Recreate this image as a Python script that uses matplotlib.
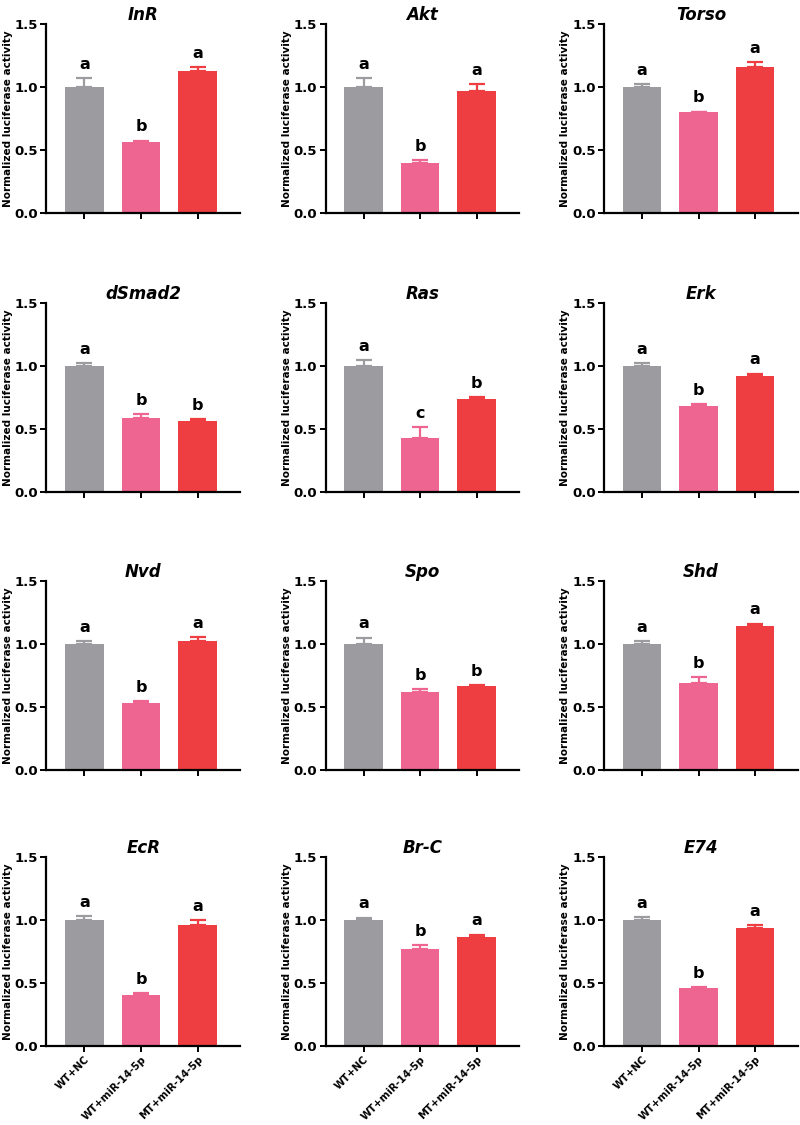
import matplotlib
matplotlib.use("Agg")
import matplotlib.pyplot as plt
import numpy as np

genes = ["InR", "Akt", "Torso", "dSmad2", "Ras", "Erk",
         "Nvd", "Spo", "Shd", "EcR", "Br-C", "E74"]
groups = ["WT+NC", "WT+miR-14-5p", "MT+miR-14-5p"]

means = [
    [1.00, 0.56, 1.13],
    [1.00, 0.40, 0.97],
    [1.00, 0.80, 1.16],
    [1.00, 0.59, 0.56],
    [1.00, 0.43, 0.74],
    [1.00, 0.68, 0.92],
    [1.00, 0.53, 1.02],
    [1.00, 0.62, 0.67],
    [1.00, 0.69, 1.14],
    [1.00, 0.41, 0.96],
    [1.00, 0.77, 0.87],
    [1.00, 0.46, 0.94],
]
errors = [
    [0.07, 0.015, 0.03],
    [0.07, 0.02, 0.05],
    [0.02, 0.005, 0.035],
    [0.02, 0.025, 0.02],
    [0.045, 0.085, 0.015],
    [0.02, 0.015, 0.02],
    [0.025, 0.015, 0.035],
    [0.05, 0.02, 0.005],
    [0.025, 0.045, 0.02],
    [0.035, 0.01, 0.04],
    [0.02, 0.03, 0.015],
    [0.025, 0.01, 0.02],
]
letters = [
    ["a", "b", "a"], ["a", "b", "a"], ["a", "b", "a"],
    ["a", "b", "b"], ["a", "c", "b"], ["a", "b", "a"],
    ["a", "b", "a"], ["a", "b", "b"], ["a", "b", "a"],
    ["a", "b", "a"], ["a", "b", "a"], ["a", "b", "a"],
]

colors = ["#9c9ba0", "#ef6592", "#ee3e42"]

fig = plt.figure(figsize=(8, 11.25), dpi=100)

lefts = [0.058, 0.407, 0.755]
bottoms = [0.8107, 0.5627, 0.3156, 0.0700]
w, h = 0.242, 0.168

x = np.arange(3)
for i, gene in enumerate(genes):
    r, c = divmod(i, 3)
    ax = fig.add_axes([lefts[c], bottoms[r], w, h])
    for j in range(3):
        ax.bar(x[j], means[i][j], 0.68, color=colors[j], zorder=2)
        ax.errorbar(x[j], means[i][j], yerr=[[0], [errors[i][j]]], fmt="none",
                    ecolor=colors[j], elinewidth=1.6, capsize=6, capthick=1.6, zorder=1)
        ax.text(x[j], means[i][j] + errors[i][j] + 0.05, letters[i][j],
                ha="center", va="bottom", fontsize=11.5, fontweight="bold")
    ax.set_xlim(-0.67, 2.75)
    ax.set_ylim(0, 1.5)
    ax.set_yticks([0, 0.5, 1.0, 1.5])
    ax.set_yticklabels(["0.0", "0.5", "1.0", "1.5"])
    ax.set_xticks(x)
    ax.spines["top"].set_visible(False)
    ax.spines["right"].set_visible(False)
    ax.spines["left"].set_linewidth(1.6)
    ax.spines["bottom"].set_linewidth(1.6)
    ax.tick_params(axis="both", width=1.4, length=4, labelsize=9.5, pad=2)
    for lab in ax.get_yticklabels():
        lab.set_fontweight("bold")
    if r == 3:
        ax.set_xticklabels(groups, rotation=45, ha="right", rotation_mode="anchor",
                           fontsize=7.3, fontweight="bold")
    else:
        ax.set_xticklabels([])
    ax.set_ylabel("Normalized luciferase activity", fontsize=7.5, fontweight="bold")
    ax.yaxis.set_label_coords(-0.175, 0.5)
    ax.set_title(gene, fontsize=12, fontweight="bold", style="italic", pad=3)

plt.savefig("out.png", dpi=100)
